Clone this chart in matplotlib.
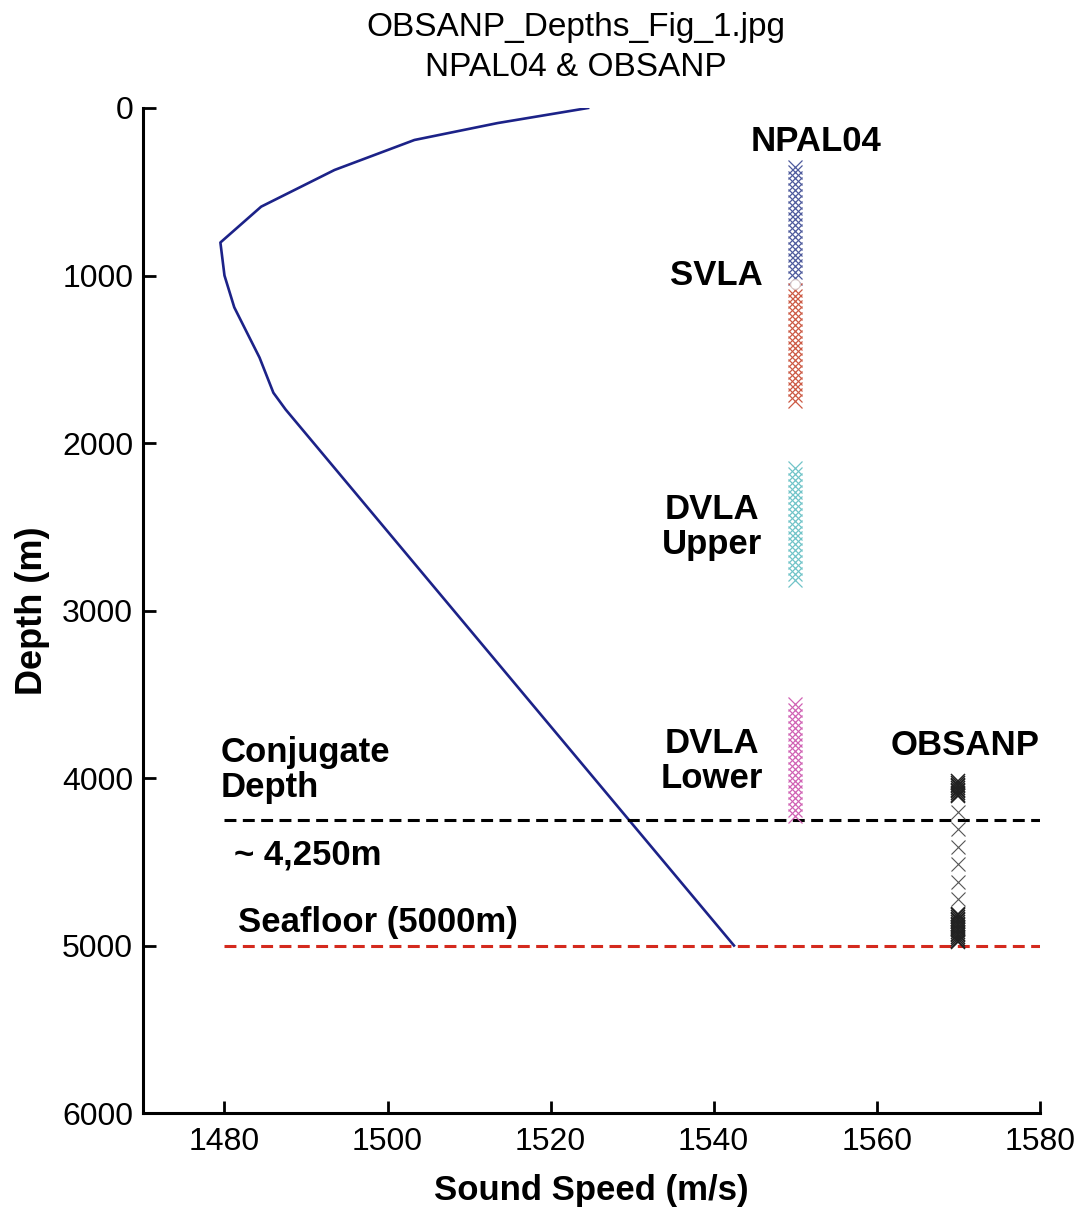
import matplotlib
matplotlib.use("Agg")
import matplotlib.pyplot as plt

plt.rcParams['font.family'] = ['Liberation Sans', 'DejaVu Sans']

# sound speed profile (m/s vs depth m)
profile_speed = [1524.6, 1513.5, 1503.3, 1493.5, 1484.5, 1479.5, 1480.0, 1481.2,
                 1482.8, 1484.3, 1486.0, 1487.5, 1542.5]
profile_depth = [0, 90, 191, 370, 589, 803, 1000, 1190, 1345, 1490, 1700, 1800, 5000]

# NPAL04 receiver depths (m)
svla_upper = [350, 385, 420, 455, 490, 525, 560, 595, 630, 665,
              700, 735, 770, 805, 840, 875, 910, 945, 980, 1015]
svla_gap = [1052]
svla_lower = [1085, 1120, 1155, 1190, 1225, 1260, 1295, 1330, 1365, 1400,
              1435, 1470, 1505, 1540, 1575, 1610, 1645, 1680, 1715, 1750]
dvla_upper = [2150, 2185, 2220, 2255, 2290, 2325, 2360, 2395, 2430, 2465,
              2500, 2535, 2570, 2605, 2640, 2675, 2710, 2745, 2780, 2815]
dvla_lower = [3560, 3595, 3630, 3665, 3700, 3735, 3770, 3805, 3840, 3875,
              3910, 3945, 3980, 4015, 4050, 4085, 4120, 4155, 4190, 4225]

# OBSANP receiver depths (m)
obsanp_top = [4020, 4030, 4040, 4050, 4060, 4070, 4080, 4090, 4100, 4110]
obsanp_mid = [4200, 4305, 4410, 4515, 4620, 4725]
obsanp_bot = [4810, 4820, 4830, 4840, 4850, 4860, 4870, 4880, 4890,
              4900, 4910, 4920, 4930, 4940, 4950, 4960, 4970, 4980]

npal_speed = 1550
obsanp_speed = 1570
conjugate_depth = 4250
seafloor_depth = 5000

xticks = [1480, 1500, 1520, 1540, 1560, 1580]
yticks = [0, 1000, 2000, 3000, 4000, 5000, 6000]

fig = plt.figure(figsize=(10.83, 12.08), dpi=100)
ax = fig.add_axes([0.132, 0.0786, 0.828, 0.832])

ax.plot(profile_speed, profile_depth, color='#1c2288', lw=1.9)

# reference depth lines
ax.plot([1480, 1580], [conjugate_depth] * 2, color='black', lw=2.2,
        dashes=(3.9, 2.1))
ax.plot([1480, 1580], [seafloor_depth] * 2, color='#d42a1e', lw=2.2,
        dashes=(3.9, 2.1))


def column(speed, depths, color, ms=9.5, mew=0.9):
    ax.plot([speed] * len(depths), depths, ls='none', marker='x',
            color=color, ms=ms, mew=mew)


column(npal_speed, svla_upper, '#4d5a9c')
column(npal_speed, svla_lower, '#cc5a44')
ax.plot([npal_speed], svla_gap, ls='none', marker='o', ms=7,
        mfc='white', mec='#d8c8c8', mew=0.8)
column(npal_speed, dvla_upper, '#70c4c8')
column(npal_speed, dvla_lower, '#d062b4')
column(obsanp_speed, obsanp_top, '#222222', mew=1.1)
column(obsanp_speed, obsanp_mid, '#555555', ms=10, mew=0.8)
column(obsanp_speed, obsanp_bot, '#222222', mew=1.1)

bold = dict(fontsize=25, fontweight='bold')
ax.text(1552.6, 203, 'NPAL04', ha='center', va='center', **bold)
ax.text(1546.0, 997, 'SVLA', ha='right', va='center', **bold)
ax.text(1539.8, 2501, 'DVLA\nUpper', ha='center', va='center',
        linespacing=1.05, **bold)
ax.text(1539.8, 3899, 'DVLA\nLower', ha='center', va='center',
        linespacing=1.05, **bold)
ax.text(1570.8, 3803, 'OBSANP', ha='center', va='center', **bold)
ax.text(1479.5, 3952, 'Conjugate\nDepth', ha='left', va='center',
        linespacing=1.05, **bold)
ax.text(1481.2, 4460, '~ 4,250m', ha='left', va='center', **bold)
ax.text(1481.6, 4860, 'Seafloor (5000m)', ha='left', va='center', **bold)

ax.set_xlim(1470, 1580)
ax.set_ylim(6000, 0)
ax.set_xticks(xticks)
ax.set_yticks(yticks)
ax.tick_params(direction='in', length=9, width=2, labelsize=23)
ax.tick_params(axis='x', pad=10)
ax.tick_params(axis='y', pad=7)

for side in ('top', 'right'):
    ax.spines[side].set_visible(False)
for side in ('left', 'bottom'):
    ax.spines[side].set_linewidth(2.2)

ax.set_xlabel('Sound Speed (m/s)', fontsize=25, fontweight='bold', labelpad=12)
ax.set_ylabel('Depth (m)', fontsize=26, fontweight='bold', labelpad=9)

fig.text(0.532, 0.977, 'OBSANP_Depths_Fig_1.jpg', ha='center', va='center',
         fontsize=24)
fig.text(0.532, 0.944, 'NPAL04 & OBSANP', ha='center', va='center',
         fontsize=24)

fig.savefig('out.png', dpi=100, facecolor='white')
